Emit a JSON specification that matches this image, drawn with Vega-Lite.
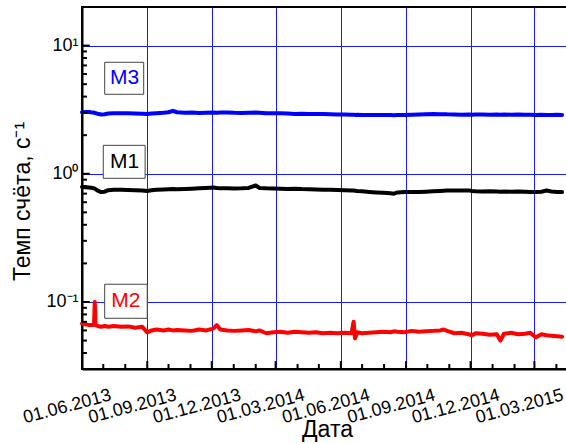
{
  "$schema": "https://vega.github.io/schema/vega-lite/v6.json",
  "autosize": "none",
  "padding": {"left": 82, "top": 7, "right": 0, "bottom": 74},
  "width": 490,
  "height": 362,
  "background": "white",
  "config": {
    "font": "Liberation Sans",
    "view": {"stroke": "black", "strokeWidth": 2}
  },
  "resolve": {"axis": {"x": "independent", "y": "independent"}},
  "datasets": {
    "series": [
      {"date": "2013-06-01", "M3": 3.02, "M1": 0.79, "M2": 0.068},
      {"date": "2013-06-06", "M3": 3.04, "M1": 0.785, "M2": 0.067},
      {"date": "2013-06-11", "M3": 3.03, "M1": 0.78, "M2": 0.066},
      {"date": "2013-06-16", "M3": 3.0, "M1": 0.775, "M2": 0.066},
      {"date": "2013-06-18", "M3": 3.0, "M1": 0.77, "M2": 0.067},
      {"date": "2013-06-19", "M3": 2.98, "M1": 0.765, "M2": 0.1},
      {"date": "2013-06-20", "M3": 2.97, "M1": 0.76, "M2": 0.066},
      {"date": "2013-06-23", "M3": 2.94, "M1": 0.74, "M2": 0.065},
      {"date": "2013-06-28", "M3": 2.9, "M1": 0.72, "M2": 0.064},
      {"date": "2013-07-03", "M3": 2.91, "M1": 0.725, "M2": 0.065},
      {"date": "2013-07-08", "M3": 2.95, "M1": 0.745, "M2": 0.064},
      {"date": "2013-07-16", "M3": 2.96, "M1": 0.75, "M2": 0.065},
      {"date": "2013-07-26", "M3": 2.97, "M1": 0.752, "M2": 0.064},
      {"date": "2013-08-05", "M3": 2.96, "M1": 0.748, "M2": 0.0645},
      {"date": "2013-08-15", "M3": 2.95, "M1": 0.745, "M2": 0.063},
      {"date": "2013-08-25", "M3": 2.94, "M1": 0.742, "M2": 0.064},
      {"date": "2013-09-01", "M3": 2.93, "M1": 0.735, "M2": 0.058},
      {"date": "2013-09-07", "M3": 2.95, "M1": 0.745, "M2": 0.06},
      {"date": "2013-09-14", "M3": 2.97, "M1": 0.75, "M2": 0.061},
      {"date": "2013-09-24", "M3": 2.99, "M1": 0.755, "M2": 0.06},
      {"date": "2013-10-01", "M3": 3.02, "M1": 0.757, "M2": 0.061},
      {"date": "2013-10-07", "M3": 3.1, "M1": 0.76, "M2": 0.06},
      {"date": "2013-10-13", "M3": 3.02, "M1": 0.758, "M2": 0.0605},
      {"date": "2013-10-24", "M3": 2.99, "M1": 0.762, "M2": 0.06},
      {"date": "2013-11-03", "M3": 3.0, "M1": 0.765, "M2": 0.0595},
      {"date": "2013-11-13", "M3": 2.98, "M1": 0.77, "M2": 0.061},
      {"date": "2013-11-23", "M3": 2.99, "M1": 0.775, "M2": 0.06},
      {"date": "2013-12-03", "M3": 3.0, "M1": 0.78, "M2": 0.062},
      {"date": "2013-12-08", "M3": 2.99, "M1": 0.775, "M2": 0.066},
      {"date": "2013-12-13", "M3": 3.0, "M1": 0.772, "M2": 0.061},
      {"date": "2013-12-23", "M3": 3.01, "M1": 0.77, "M2": 0.06},
      {"date": "2014-01-02", "M3": 2.99, "M1": 0.768, "M2": 0.0595},
      {"date": "2014-01-12", "M3": 2.98, "M1": 0.77, "M2": 0.06},
      {"date": "2014-01-22", "M3": 2.99, "M1": 0.775, "M2": 0.0605},
      {"date": "2014-02-01", "M3": 3.0, "M1": 0.81, "M2": 0.059},
      {"date": "2014-02-06", "M3": 2.99, "M1": 0.775, "M2": 0.06},
      {"date": "2014-02-16", "M3": 2.97, "M1": 0.77, "M2": 0.057},
      {"date": "2014-02-26", "M3": 2.96, "M1": 0.768, "M2": 0.058},
      {"date": "2014-03-08", "M3": 2.96, "M1": 0.765, "M2": 0.0585},
      {"date": "2014-03-18", "M3": 2.95, "M1": 0.762, "M2": 0.0575},
      {"date": "2014-03-28", "M3": 2.93, "M1": 0.765, "M2": 0.0585},
      {"date": "2014-04-07", "M3": 2.94, "M1": 0.76, "M2": 0.058},
      {"date": "2014-04-17", "M3": 2.93, "M1": 0.758, "M2": 0.0575},
      {"date": "2014-04-27", "M3": 2.93, "M1": 0.755, "M2": 0.058},
      {"date": "2014-05-07", "M3": 2.92, "M1": 0.752, "M2": 0.057},
      {"date": "2014-05-17", "M3": 2.91, "M1": 0.75, "M2": 0.0575},
      {"date": "2014-05-27", "M3": 2.9, "M1": 0.748, "M2": 0.057},
      {"date": "2014-06-06", "M3": 2.9, "M1": 0.745, "M2": 0.0575},
      {"date": "2014-06-16", "M3": 2.89, "M1": 0.742, "M2": 0.057},
      {"date": "2014-06-19", "M3": 2.89, "M1": 0.74, "M2": 0.07},
      {"date": "2014-06-21", "M3": 2.88, "M1": 0.738, "M2": 0.052},
      {"date": "2014-06-24", "M3": 2.89, "M1": 0.735, "M2": 0.058},
      {"date": "2014-07-01", "M3": 2.88, "M1": 0.73, "M2": 0.057},
      {"date": "2014-07-11", "M3": 2.87, "M1": 0.722, "M2": 0.0575},
      {"date": "2014-07-21", "M3": 2.87, "M1": 0.715, "M2": 0.058},
      {"date": "2014-07-31", "M3": 2.87, "M1": 0.71, "M2": 0.0585},
      {"date": "2014-08-10", "M3": 2.87, "M1": 0.705, "M2": 0.058},
      {"date": "2014-08-15", "M3": 2.86, "M1": 0.7, "M2": 0.059},
      {"date": "2014-08-20", "M3": 2.87, "M1": 0.715, "M2": 0.0585},
      {"date": "2014-08-30", "M3": 2.88, "M1": 0.72, "M2": 0.058},
      {"date": "2014-09-09", "M3": 2.89, "M1": 0.722, "M2": 0.0595},
      {"date": "2014-09-19", "M3": 2.9, "M1": 0.72, "M2": 0.0585},
      {"date": "2014-09-29", "M3": 2.91, "M1": 0.725, "M2": 0.059},
      {"date": "2014-10-09", "M3": 2.92, "M1": 0.73, "M2": 0.0595},
      {"date": "2014-10-19", "M3": 2.91, "M1": 0.735, "M2": 0.06},
      {"date": "2014-10-24", "M3": 2.92, "M1": 0.738, "M2": 0.061},
      {"date": "2014-10-29", "M3": 2.91, "M1": 0.74, "M2": 0.0595},
      {"date": "2014-11-08", "M3": 2.9, "M1": 0.742, "M2": 0.057},
      {"date": "2014-11-18", "M3": 2.89, "M1": 0.74, "M2": 0.0575},
      {"date": "2014-11-28", "M3": 2.9, "M1": 0.742, "M2": 0.056},
      {"date": "2014-12-03", "M3": 2.89, "M1": 0.735, "M2": 0.055},
      {"date": "2014-12-08", "M3": 2.9, "M1": 0.73, "M2": 0.057},
      {"date": "2014-12-18", "M3": 2.9, "M1": 0.728, "M2": 0.0565},
      {"date": "2014-12-28", "M3": 2.89, "M1": 0.73, "M2": 0.0555},
      {"date": "2015-01-07", "M3": 2.9, "M1": 0.728, "M2": 0.056},
      {"date": "2015-01-12", "M3": 2.89, "M1": 0.725, "M2": 0.05},
      {"date": "2015-01-17", "M3": 2.9, "M1": 0.727, "M2": 0.0565},
      {"date": "2015-01-27", "M3": 2.89, "M1": 0.725, "M2": 0.0575},
      {"date": "2015-02-06", "M3": 2.9, "M1": 0.728, "M2": 0.056},
      {"date": "2015-02-16", "M3": 2.89, "M1": 0.725, "M2": 0.0565},
      {"date": "2015-02-23", "M3": 2.89, "M1": 0.722, "M2": 0.0575},
      {"date": "2015-03-03", "M3": 2.88, "M1": 0.72, "M2": 0.053},
      {"date": "2015-03-11", "M3": 2.89, "M1": 0.725, "M2": 0.056},
      {"date": "2015-03-18", "M3": 2.88, "M1": 0.74, "M2": 0.055},
      {"date": "2015-03-25", "M3": 2.88, "M1": 0.728, "M2": 0.0545},
      {"date": "2015-04-02", "M3": 2.89, "M1": 0.722, "M2": 0.054},
      {"date": "2015-04-09", "M3": 2.88, "M1": 0.72, "M2": 0.0535}
    ],
    "labels": [
      {"lab": "M3", "x1": "2013-07-03", "x2": "2013-08-27", "y1": 7.41, "y2": 4.17, "tx": "2013-07-31", "ty": 5.56},
      {"lab": "M1", "x1": "2013-07-01", "x2": "2013-08-29", "y1": 1.667, "y2": 0.922, "tx": "2013-07-31", "ty": 1.24},
      {"lab": "M2", "x1": "2013-07-03", "x2": "2013-09-01", "y1": 0.1375, "y2": 0.0746, "tx": "2013-08-02", "ty": 0.101}
    ],
    "xticks": [
      {"date": "2013-07-01", "kind": "minor"}, {"date": "2013-08-01", "kind": "minor"},
      {"date": "2013-09-01", "kind": "major"}, {"date": "2013-10-01", "kind": "minor"},
      {"date": "2013-11-01", "kind": "minor"}, {"date": "2013-12-01", "kind": "major"},
      {"date": "2014-01-01", "kind": "minor"}, {"date": "2014-02-01", "kind": "minor"},
      {"date": "2014-03-01", "kind": "major"}, {"date": "2014-04-01", "kind": "minor"},
      {"date": "2014-05-01", "kind": "minor"}, {"date": "2014-06-01", "kind": "major"},
      {"date": "2014-07-01", "kind": "minor"}, {"date": "2014-08-01", "kind": "minor"},
      {"date": "2014-09-01", "kind": "major"}, {"date": "2014-10-01", "kind": "minor"},
      {"date": "2014-11-01", "kind": "minor"}, {"date": "2014-12-01", "kind": "major"},
      {"date": "2015-01-01", "kind": "minor"}, {"date": "2015-02-01", "kind": "minor"},
      {"date": "2015-03-01", "kind": "major"}, {"date": "2015-04-01", "kind": "minor"}
    ],
    "yticks": [
      {"v": 0.03, "kind": "minor"}, {"v": 0.04, "kind": "minor"}, {"v": 0.05, "kind": "minor"},
      {"v": 0.06, "kind": "minor"}, {"v": 0.07, "kind": "minor"}, {"v": 0.08, "kind": "minor"},
      {"v": 0.09, "kind": "minor"}, {"v": 0.1, "kind": "major"}, {"v": 0.2, "kind": "minor"},
      {"v": 0.3, "kind": "minor"}, {"v": 0.4, "kind": "minor"}, {"v": 0.5, "kind": "minor"},
      {"v": 0.6, "kind": "minor"}, {"v": 0.7, "kind": "minor"}, {"v": 0.8, "kind": "minor"},
      {"v": 0.9, "kind": "minor"}, {"v": 1, "kind": "major"}, {"v": 2, "kind": "minor"},
      {"v": 3, "kind": "minor"}, {"v": 4, "kind": "minor"}, {"v": 5, "kind": "minor"},
      {"v": 6, "kind": "minor"}, {"v": 7, "kind": "minor"}, {"v": 8, "kind": "minor"},
      {"v": 9, "kind": "minor"}, {"v": 10, "kind": "major"}
    ]
  },
  "layer": [
    {
      "data": {"name": "series"},
      "transform": [{"fold": ["M3", "M1", "M2"], "as": ["series", "value"]}],
      "mark": {"type": "line", "strokeWidth": 4, "strokeJoin": "round", "strokeCap": "round"},
      "encoding": {
        "x": {
          "field": "date",
          "type": "temporal",
          "scale": {"domain": [{"year": 2013, "month": 6, "date": 1}, {"year": 2015, "month": 4, "date": 23}], "nice": false},
          "axis": {
            "orient": "bottom",
            "values": [
              {"year": 2013, "month": 6, "date": 1}, {"year": 2013, "month": 9, "date": 1},
              {"year": 2013, "month": 12, "date": 1}, {"year": 2014, "month": 3, "date": 1},
              {"year": 2014, "month": 6, "date": 1}, {"year": 2014, "month": 9, "date": 1},
              {"year": 2014, "month": 12, "date": 1}, {"year": 2015, "month": 3, "date": 1}
            ],
            "format": "%d.%m.%Y",
            "labelAngle": -15,
            "labelAlign": "right",
            "labelBaseline": "top",
            "labelOffset": 26,
            "labelPadding": 25,
            "labelFontSize": 18,
            "labelColor": "black",
            "labelOverlap": false,
            "labelFlush": false,
            "labelBound": false,
            "tickSize": -8,
            "tickOpacity": 0,
            "grid": true,
            "gridColor": "#1a1aff",
            "gridWidth": 1,
            "domainColor": "black",
            "domainWidth": 2,
            "title": "Дата",
            "titleFontSize": 23,
            "titleFontWeight": "normal",
            "titleColor": "black",
            "titleBaseline": "alphabetic",
            "titleY": 67
          }
        },
        "y": {
          "field": "value",
          "type": "quantitative",
          "scale": {"type": "log", "domain": [0.03, 20], "nice": false},
          "axis": {
            "orient": "left",
            "values": [0.1, 1, 10],
            "labelExpr": "datum.value == 0.1 ? '10⁻¹' : datum.value == 1 ? '10⁰' : '10¹'",
            "labelFontSize": 18,
            "labelColor": "black",
            "labelPadding": 12,
            "labelOverlap": false,
            "labelFlush": false,
            "labelBound": false,
            "tickSize": -8,
            "tickOpacity": 0,
            "grid": true,
            "gridColor": "#1a1aff",
            "gridWidth": 1,
            "domainColor": "black",
            "domainWidth": 2,
            "title": "Темп счёта, с⁻¹",
            "titleFontSize": 23,
            "titleFontWeight": "normal",
            "titleColor": "black",
            "titleX": -48,
            "titleY": 194
          }
        },
        "color": {
          "field": "series",
          "type": "nominal",
          "scale": {"domain": ["M3", "M1", "M2"], "range": ["#0000ff", "#000000", "#ff0000"]},
          "legend": null
        }
      }
    },
    {
      "data": {"name": "xticks"},
      "transform": [{"filter": "datum.kind == 'major'"}],
      "mark": {"type": "rule", "color": "#000000", "strokeWidth": 2, "opacity": 1},
      "encoding": {
        "x": {"field": "date", "type": "temporal", "axis": null},
        "y": {"datum": 0.03, "type": "quantitative", "axis": null},
        "y2": {"datum": 0.0346}
      }
    },
    {
      "data": {"name": "xticks"},
      "transform": [{"filter": "datum.kind == 'minor'"}],
      "mark": {"type": "rule", "color": "#000000", "strokeWidth": 2, "opacity": 1},
      "encoding": {
        "x": {"field": "date", "type": "temporal", "axis": null},
        "y": {"datum": 0.03, "type": "quantitative", "axis": null},
        "y2": {"datum": 0.0328}
      }
    },
    {
      "data": {"name": "yticks"},
      "transform": [{"filter": "datum.kind == 'major'"}],
      "mark": {"type": "rule", "color": "#000000", "strokeWidth": 2, "opacity": 1},
      "encoding": {
        "y": {"field": "v", "type": "quantitative", "axis": null},
        "x": {"datum": {"year": 2013, "month": 6, "date": 1}, "type": "temporal", "axis": null},
        "x2": {"datum": {"year": 2013, "month": 6, "date": 12}}
      }
    },
    {
      "data": {"name": "yticks"},
      "transform": [{"filter": "datum.kind == 'minor'"}],
      "mark": {"type": "rule", "color": "#000000", "strokeWidth": 2, "opacity": 1},
      "encoding": {
        "y": {"field": "v", "type": "quantitative", "axis": null},
        "x": {"datum": {"year": 2013, "month": 6, "date": 1}, "type": "temporal", "axis": null},
        "x2": {"datum": {"year": 2013, "month": 6, "date": 8}}
      }
    },
    {
      "data": {"name": "labels"},
      "mark": {"type": "rect", "fill": "white", "stroke": "#444444", "strokeWidth": 1},
      "encoding": {
        "x": {"field": "x1", "type": "temporal", "axis": null},
        "x2": {"field": "x2"},
        "y": {"field": "y1", "type": "quantitative", "axis": null},
        "y2": {"field": "y2"}
      }
    },
    {
      "data": {"name": "labels"},
      "mark": {"type": "text", "fontSize": 21, "align": "center", "baseline": "middle"},
      "encoding": {
        "x": {"field": "tx", "type": "temporal", "axis": null},
        "y": {"field": "ty", "type": "quantitative", "axis": null},
        "text": {"field": "lab"},
        "color": {"field": "lab", "type": "nominal", "legend": null}
      }
    }
  ]
}
